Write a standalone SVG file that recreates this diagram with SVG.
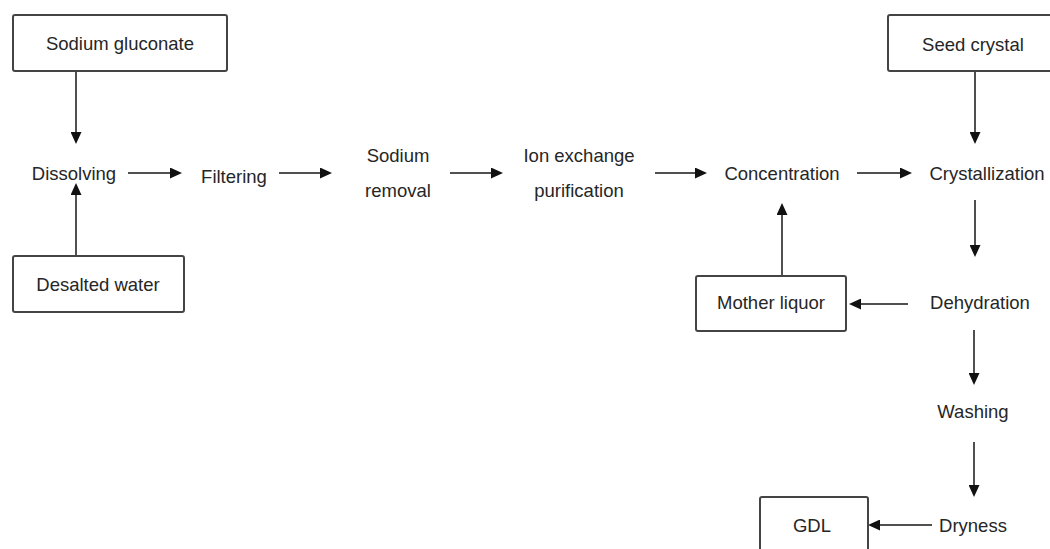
<svg xmlns="http://www.w3.org/2000/svg" width="1050" height="549" viewBox="0 0 1050 549">
<style>
text{font-family:"Liberation Sans",Arial,sans-serif;font-size:18.5px;fill:#262626;text-anchor:middle}
.box{fill:#fff;stroke:#444;stroke-width:2}
.c{stroke:#505050;stroke-width:2;fill:none;marker-end:url(#ah)}
</style>
<defs>
<marker id="ah" markerUnits="userSpaceOnUse" markerWidth="12" markerHeight="11" refX="6" refY="5.5" orient="auto" viewBox="0 0 12 11">
<path d="M0,0 L12,5.5 L0,11 z" fill="#111"/>
</marker>
</defs>
<rect width="1050" height="549" fill="#fff"/>
<g id="connectors">
<line class="c" x1="76" y1="71" x2="76" y2="138"/>
<line class="c" x1="128" y1="173" x2="176" y2="173"/>
<line class="c" x1="76" y1="256" x2="76" y2="189"/>
<line class="c" x1="279" y1="173" x2="326" y2="173"/>
<line class="c" x1="450" y1="173" x2="497" y2="173"/>
<line class="c" x1="655" y1="173" x2="701" y2="173"/>
<line class="c" x1="857" y1="173" x2="906" y2="173"/>
<line class="c" x1="975" y1="71" x2="975" y2="138"/>
<line class="c" x1="975" y1="200" x2="975" y2="251"/>
<line class="c" x1="782" y1="276" x2="782" y2="209"/>
<line class="c" x1="908" y1="304" x2="855" y2="304"/>
<line class="c" x1="974" y1="330" x2="974" y2="379"/>
<line class="c" x1="974" y1="442" x2="974" y2="491"/>
<line class="c" x1="932" y1="525" x2="874" y2="525"/>
</g>
<g id="sodium-gluconate"><rect class="box" x="13" y="15" width="214" height="56" rx="2"/><text x="120" y="50">Sodium gluconate</text></g>
<g id="dissolving"><text x="74" y="180">Dissolving</text></g>
<g id="desalted-water"><rect class="box" x="13" y="256" width="171" height="56" rx="2"/><text x="98" y="291">Desalted water</text></g>
<g id="filtering"><text x="234" y="183">Filtering</text></g>
<g id="sodium-removal"><text x="398" y="162">Sodium</text><text x="398" y="197">removal</text></g>
<g id="ion-exchange"><text x="579" y="162">Ion exchange</text><text x="579" y="197">purification</text></g>
<g id="concentration"><text x="782" y="180">Concentration</text></g>
<g id="seed-crystal"><rect class="box" x="888" y="15" width="166" height="56" rx="2"/><text x="973" y="51">Seed crystal</text></g>
<g id="crystallization"><text x="987" y="180">Crystallization</text></g>
<g id="mother-liquor"><rect class="box" x="696" y="276" width="150" height="55" rx="2"/><text x="771" y="309">Mother liquor</text></g>
<g id="dehydration"><text x="980" y="309">Dehydration</text></g>
<g id="washing"><text x="973" y="418">Washing</text></g>
<g id="dryness"><text x="973" y="532">Dryness</text></g>
<g id="gdl"><rect class="box" x="760" y="497" width="108" height="70" rx="2"/><text x="812" y="532">GDL</text></g>
</svg>
